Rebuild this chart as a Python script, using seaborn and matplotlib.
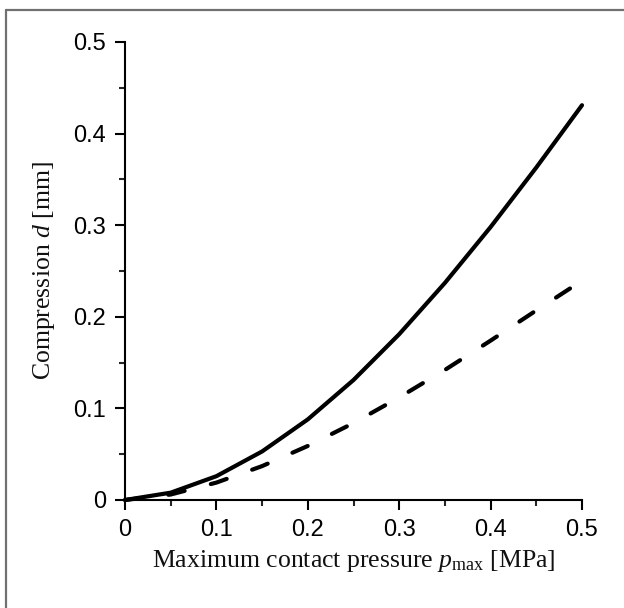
import matplotlib
matplotlib.use("Agg")
import matplotlib.pyplot as plt
from matplotlib.lines import Line2D
from matplotlib.ticker import MultipleLocator
import seaborn as sns
import pandas as pd

# Data
pressure_solid = [0.0, 0.05, 0.10, 0.15, 0.20, 0.25, 0.30, 0.35, 0.40, 0.45, 0.50]
compression_solid = [0.0, 0.008, 0.026, 0.053, 0.088, 0.131, 0.181, 0.237, 0.298, 0.363, 0.431]
pressure_dashed = [0.0, 0.05, 0.10, 0.15, 0.20, 0.25, 0.30, 0.35, 0.40, 0.45, 0.487]
compression_dashed = [0.0, 0.006, 0.019, 0.037, 0.059, 0.084, 0.112, 0.142, 0.174, 0.207, 0.231]
x_ticks = [0, 0.1, 0.2, 0.3, 0.4, 0.5]
y_ticks = [0, 0.1, 0.2, 0.3, 0.4, 0.5]
tick_labels = ["0", "0.1", "0.2", "0.3", "0.4", "0.5"]

sns.set_style("ticks")
plt.rcParams["font.family"] = ["Liberation Sans", "DejaVu Sans"]
plt.rcParams["mathtext.fontset"] = "custom"
plt.rcParams["mathtext.rm"] = "Liberation Serif"
plt.rcParams["mathtext.it"] = "Liberation Serif:italic"

fig = plt.figure(figsize=(6.24, 6.08), dpi=100)
ax = fig.add_axes([125 / 624, 1 - 500 / 608, (582 - 125) / 624, (500 - 42) / 608])

df_s = pd.DataFrame({"p": pressure_solid, "d": compression_solid})
df_d = pd.DataFrame({"p": pressure_dashed, "d": compression_dashed})
sns.lineplot(data=df_d, x="p", y="d", ax=ax, color="black", linewidth=3,
             dashes=False, linestyle=(0, (4, 6.5)), dash_capstyle="round", clip_on=False)
sns.lineplot(data=df_s, x="p", y="d", ax=ax, color="black", linewidth=3,
             solid_capstyle="round", solid_joinstyle="round", clip_on=False)

ax.set_xlim(0, 0.5)
ax.set_ylim(0, 0.5)
ax.set_xticks(x_ticks)
ax.set_xticklabels(tick_labels)
ax.set_yticks(y_ticks)
ax.set_yticklabels(tick_labels)
ax.xaxis.set_minor_locator(MultipleLocator(0.05))
ax.yaxis.set_minor_locator(MultipleLocator(0.05))
ax.tick_params(which="major", length=7.5, width=1.5, labelsize=17, direction="out", colors="black")
ax.tick_params(axis="x", which="major", pad=6)
ax.tick_params(axis="y", which="major", pad=6)
ax.tick_params(which="minor", length=4, width=1.5, direction="out")
for s in ["top", "right"]:
    ax.spines[s].set_visible(False)
for s in ["left", "bottom"]:
    ax.spines[s].set_linewidth(1.5)
    ax.spines[s].set_color("black")

serif = ["Liberation Serif", "DejaVu Serif"]
ax.set_xlabel(r"Maximum contact pressure $p_{\mathrm{max}}$ [MPa]", family=serif, fontsize=18.5, labelpad=5, color="#111111")
ax.set_ylabel(r"Compression $d$ [mm]", family=serif, fontsize=18.5, labelpad=12, color="#111111")

# Outer frame (only left and top edges fall inside the image)
fx = 5.5 / 624
fy = 1 - 9.5 / 608
fig.add_artist(Line2D([fx, fx], [0, fy], transform=fig.transFigure, color="#707070", linewidth=1.6))
fig.add_artist(Line2D([fx, 1], [fy, fy], transform=fig.transFigure, color="#707070", linewidth=1.6))

fig.savefig("out.png", dpi=100)
